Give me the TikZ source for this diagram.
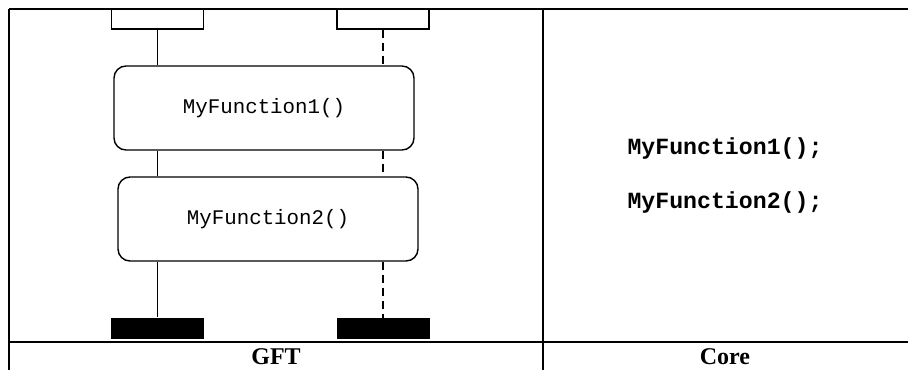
\documentclass[tikz,border=0pt]{standalone}
\usepackage{fontspec}
\setmainfont{Liberation Serif}
\setmonofont{Liberation Mono}
\usetikzlibrary{positioning}

\begin{document}
\begin{tikzpicture}[
			x=0.5pt, y=-0.5pt,
			line join=miter,
			tabline/.style={line width=1.2pt},
			instbox/.style={draw, line width=0.7pt, minimum width=46pt, minimum height=10pt, inner sep=0pt},
			endbar/.style={fill=black, minimum width=46.5pt, minimum height=10.5pt, inner sep=0pt},
			funcbox/.style={draw, rounded corners=6pt, line width=0.7pt, minimum width=150pt, minimum height=42pt, font=\fontsize{10.4}{12}\selectfont\ttfamily},
			coretext/.style={font=\fontsize{11.6}{14}\selectfont\ttfamily\bfseries},
			headtext/.style={font=\fontsize{12}{14}\selectfont\bfseries},
			lifeline/.style={line width=0.7pt},
			dashline/.style={line width=0.7pt, dash pattern=on 4pt off 2.5pt}
			]
			\useasboundingbox (0,0) rectangle (908,370);
			
			% Table
			\draw[tabline] (9,9) -- (908,9);
			\draw[tabline] (9,9) -- (9,370);
			\draw[tabline] (543,9) -- (543,370);
			\draw[tabline] (9,342) -- (908,342);
			
			% Instances
			\node[instbox] (instA) at (157.5,19) {};
			\node[instbox] (instB) at (383,19) {};
			
			% Function calls
			\node[funcbox] (fnA) at (264,108) {MyFunction1()};
			\node[funcbox] (fnB) at (268,219) {MyFunction2()};
			
			% Instance ends
			\node[endbar] (endA) at (157.5,328) {};
			\node[endbar] (endB) at (383,328.5) {};
			
			% Lifelines
			\draw[lifeline] (instA) -- (instA |- fnA.north);
			\draw[lifeline] (instA |- fnA.south) -- (instA |- fnB.north);
			\draw[lifeline] (instA |- fnB.south) -- (endA);
			\draw[dashline] (instB) -- (instB |- fnA.north);
			\draw[dashline] (instB |- fnA.south) -- (instB |- fnB.north);
			\draw[dashline] (instB |- fnB.south) -- (endB);
			
			% Core
			\node[coretext] (coreA) at (725,148) {MyFunction1();};
			\node[coretext] (coreB) at (725,202) {MyFunction2();};
			
			% Headings
			\node[headtext] (gft) at (276,357) {GFT};
			\node[headtext] (core) at (725,357) {Core};
		\end{tikzpicture}
\end{document}
